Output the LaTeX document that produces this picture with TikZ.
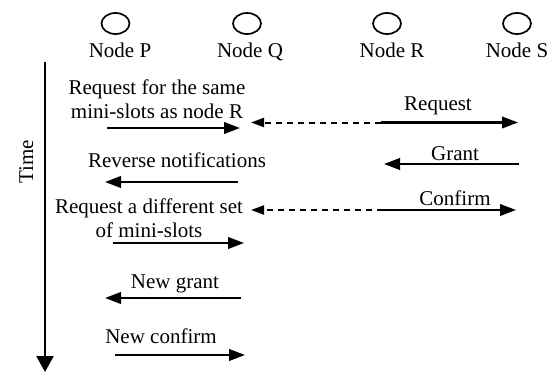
\documentclass[tikz,border=0pt]{standalone}
\usepackage{fontspec}
\setmainfont{Liberation Serif}
\usetikzlibrary{arrows.meta,shapes.geometric}
\tikzset{
  lbl/.style={font=\fontsize{21}{24}\selectfont, inner sep=0pt, anchor=base, align=center},
  proc/.style={draw, line width=1.7pt, ellipse, minimum width=28pt, minimum height=21pt, inner sep=0pt},
  msg/.style={line width=2.3pt, -{Triangle[length=16pt,width=11.5pt]}},
  ovh/.style={line width=2pt, dash pattern=on 6pt off 5pt, -{Triangle[length=13pt,width=9pt]}},
}
\begin{document}
\begin{tikzpicture}[x=1pt,y=-1pt]
\useasboundingbox (0,0) rectangle (555,372);
% processes
\node[proc] (cP) at (115.5,23.5) {};
\node[proc] (cQ) at (247,23.5) {};
\node[proc] (cR) at (387,23.5) {};
\node[proc] (cS) at (517,23.5) {};
\node[lbl] (lP) at (120,57) {Node P};
\node[lbl] (lQ) at (250,57) {Node Q};
\node[lbl] (lR) at (392,57) {Node R};
\node[lbl] (lS) at (517,57) {Node S};
% time axis
\coordinate (t0) at (45,62);
\coordinate (t1) at (45,372);
\draw[line width=2.2pt, -{Triangle[length=16pt,width=17pt]}] (t0) -- (t1);
\node[lbl, rotate=90] (time) at (33,162) {Time};
% message 1
\node[lbl] (m1) at (157,118) {Request for the same\\mini-slots as node R};
\coordinate (a1s) at (107,128); \coordinate (a1e) at (240,128);
\draw[msg] (a1s) -- (a1e);
% request R->S, overheard by Q
\node[lbl] (req) at (438,110) {Request};
\coordinate (r0) at (381,122.5); \coordinate (r1) at (518,122.5); \coordinate (r2) at (251,122.5);
\draw[msg] (r0) -- (r1);
\draw[ovh] (r0) -- (r2);
% reverse notifications
\node[lbl] (rev) at (177,167) {Reverse notifications};
\coordinate (a2s) at (238,182); \coordinate (a2e) at (105,182);
\draw[msg] (a2s) -- (a2e);
% grant
\node[lbl] (gr) at (455,160) {Grant};
\coordinate (g0) at (519,164); \coordinate (g1) at (384,164);
\draw[msg] (g0) -- (g1);
% confirm R->S, overheard by Q
\node[lbl] (conf) at (455,205) {Confirm};
\coordinate (c0) at (383,210); \coordinate (c1) at (516,210); \coordinate (c2) at (251,210);
\draw[msg] (c0) -- (c1);
\draw[ovh] (c0) -- (c2);
% request different set
\node[lbl] (m3) at (149,237) {Request a different set\\of mini-slots};
\coordinate (a3s) at (113,243); \coordinate (a3e) at (244,243);
\draw[msg] (a3s) -- (a3e);
% new grant
\node[lbl] (ng) at (175,288) {New grant};
\coordinate (a4s) at (241,298); \coordinate (a4e) at (105,298);
\draw[msg] (a4s) -- (a4e);
% new confirm
\node[lbl] (nc) at (161,343) {New confirm};
\coordinate (a5s) at (115,355); \coordinate (a5e) at (245,355);
\draw[msg] (a5s) -- (a5e);
\end{tikzpicture}
\end{document}
